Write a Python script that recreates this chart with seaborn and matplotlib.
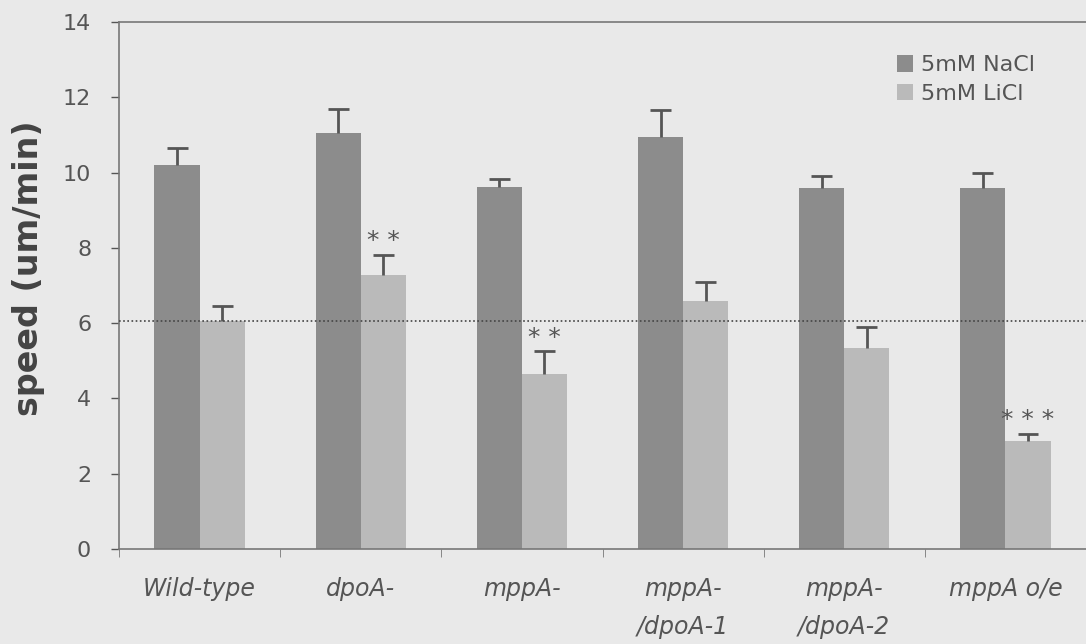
import numpy as np
import pandas as pd
import matplotlib
matplotlib.use("Agg")
import matplotlib.pyplot as plt
import seaborn as sns

# 数据
strains = ["Wild-type", "dpoA-", "mppA-", "mppA-\n/dpoA-1", "mppA-\n/dpoA-2", "mppA o/e"]
nacl_speed = [10.2, 11.05, 9.63, 10.95, 9.6, 9.6]
nacl_err = [0.45, 0.65, 0.2, 0.7, 0.3, 0.4]
licl_speed = [6.05, 7.28, 4.65, 6.6, 5.35, 2.88]
licl_err = [0.4, 0.53, 0.6, 0.5, 0.55, 0.17]
licl_marks = ["", "* *", "* *", "", "", "* * *"]
baseline = 6.05
conditions = ["5mM NaCl", "5mM LiCl"]

df = pd.DataFrame({
    "strain": strains * 2,
    "condition": [conditions[0]] * 6 + [conditions[1]] * 6,
    "speed": nacl_speed + licl_speed,
})

sns.set_style("ticks")
plt.rcParams["font.family"] = ["DejaVu Sans"]
text_col = "#555555"
bg = "#e9e9e9"

fig = plt.figure(figsize=(10.86, 6.44), dpi=100, facecolor=bg)
ax = fig.add_axes([0.1096, 0.1475, 0.8904, 0.8183])
ax.set_facecolor(bg)

sns.barplot(data=df, x="strain", y="speed", hue="condition", order=strains,
            hue_order=conditions, palette=["#8c8c8c", "#bababa"], width=0.56,
            saturation=1, errorbar=None, linewidth=0, ax=ax)

# 误差线（只画上半部分）
cap = 0.065
for cont, errs in zip(ax.containers, [nacl_err, licl_err]):
    for bar, e in zip(cont, errs):
        xc = bar.get_x() + bar.get_width() / 2
        h = bar.get_height()
        ax.vlines(xc, h, h + e, color="#555555", linewidth=2, zorder=3)
        ax.hlines(h + e, xc - cap, xc + cap, color="#555555", linewidth=2, zorder=3)

# 显著性星号
for bar, e, m in zip(ax.containers[1], licl_err, licl_marks):
    if m:
        xc = bar.get_x() + bar.get_width() / 2
        ax.text(xc, bar.get_height() + e + 0.18, m, ha="center", va="baseline",
                fontsize=18, color=text_col)

ax.axhline(baseline, color="#444444", linestyle=(0, (1, 1.5)), linewidth=1.2, zorder=4)

ax.set_ylim(0, 14)
ax.set_xlim(-0.5, 5.5)
ax.set_yticks(np.arange(0, 15, 2))
ax.tick_params(axis="y", labelsize=16, colors=text_col, length=6, width=1, pad=14)
ax.set_xticks(range(len(strains)))
ax.set_xticklabels(strains, fontsize=17, style="italic", color=text_col,
                   va="top", ha="center", linespacing=1.75)
ax.tick_params(axis="x", length=0, pad=20)
ax.set_xticks(np.arange(-0.5, 5.6, 1), minor=True)
ax.tick_params(axis="x", which="minor", length=6, color="#777777")
ax.set_xlabel("")
ax.set_ylabel("speed (um/min)", fontsize=24, fontweight="bold", color="#444444")
ax.yaxis.set_label_coords(-0.0765, 0.533)

for s in ["left", "bottom", "top"]:
    ax.spines[s].set_color("#777777")
    ax.spines[s].set_linewidth(1.2)
ax.spines["right"].set_visible(False)

leg = ax.legend(loc="upper right", bbox_to_anchor=(0.968, 0.975), frameon=False,
                fontsize=16, handlelength=0.75, handleheight=0.75, handletextpad=0.35,
                labelspacing=0.4)
for t in leg.get_texts():
    t.set_color(text_col)

fig.savefig("out.png", dpi=100, facecolor=bg)
